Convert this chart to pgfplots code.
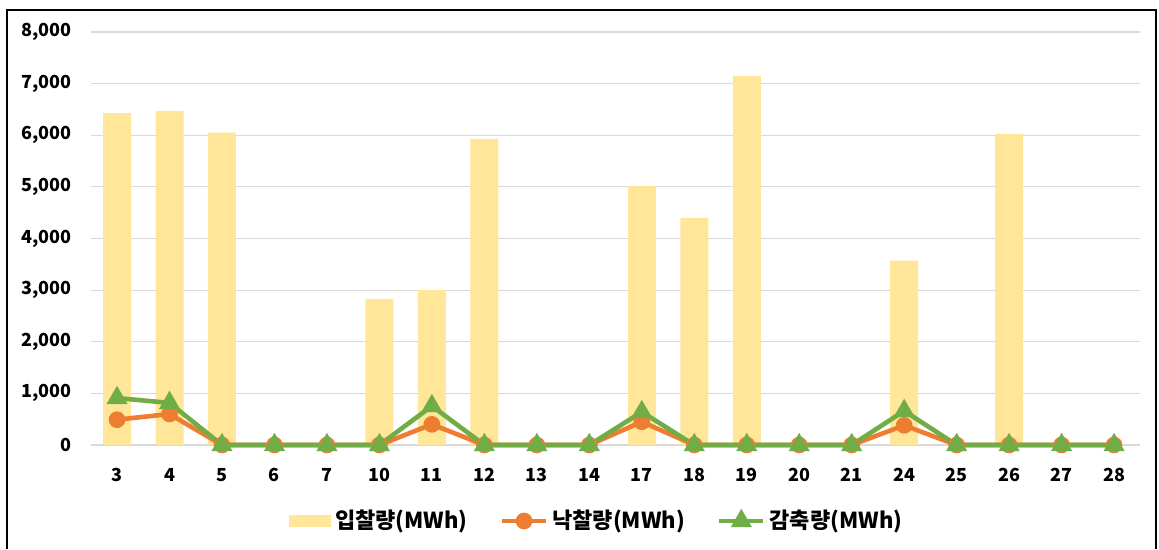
\documentclass[border=0pt]{standalone}
\usepackage{pgfplots}
\pgfplotsset{compat=1.18}
\usepackage{fontspec}
\setmainfont{Noto Sans CJK KR}
\definecolor{bidbar}{HTML}{FFE699}
\definecolor{winline}{HTML}{ED7D31}
\definecolor{cutline}{HTML}{70AD47}
\definecolor{gridc}{HTML}{D9D9D9}
\pgfplotsset{
  lineleg/.style={legend image code/.code={%
    \draw[##1,mark repeat=2,mark phase=2] plot coordinates {(0pt,0pt) (11pt,0pt) (22pt,0pt)};}},
  barleg/.style={legend image code/.code={%
    \fill[bidbar] (0pt,-3pt) rectangle (21pt,3pt);}},
}
\begin{document}
\begin{tikzpicture}
% page bounds and outer frame
\path (-45.4pt,-50.5pt) rectangle (534.1pt,222.5pt);
\draw[line width=0.8pt] (-41.9pt,-52pt) -- (-41.9pt,217.5pt) -- (532.6pt,217.5pt) -- (532.6pt,-52pt);
\begin{axis}[
  at={(0pt,0pt)}, anchor=south west,
  scale only axis, width=524.75pt, height=206.5pt,
  xmin=-0.5, xmax=19.5, ymin=0, ymax=8000,
  xtick={0,...,19},
  xticklabels={3,4,5,6,7,10,11,12,13,14,17,18,19,20,21,24,25,26,27,28},
  ytick={0,1000,...,8000},
  scaled y ticks=false,
  /pgf/number format/1000 sep={,},
  /pgf/number format/assume math mode=true,
  ticklabel style={font=\bfseries\fontsize{9}{10}\selectfont},
  xticklabel style={yshift=-8pt},
  yticklabel style={xshift=-6pt},
  axis line style={draw=none},
  major tick length=0pt,
  ymajorgrids, grid style={gridc, line width=0.6pt},
  clip=false,
  legend columns=3,
  legend style={draw=none, at={(0.483,-38pt)}, anchor=center,
    font=\bfseries\fontsize{11}{12}\selectfont,
    /tikz/every even column/.append style={column sep=14pt}},
]
\addplot[ybar, bar width=14pt, fill=bidbar, draw=none, barleg]
  coordinates {(0,6430) (1,6470) (2,6050) (5,2830) (6,3000) (7,5930)
    (10,5020) (11,4400) (12,7150) (15,3570) (17,6020)};
\addlegendentry{입찰량(MWh)}
\addplot[winline, line width=2.3pt, mark=*, mark size=3pt, lineleg]
  coordinates {(0,490) (1,600) (2,0) (3,0) (4,0) (5,0) (6,400) (7,0) (8,0) (9,0)
    (10,450) (11,0) (12,0) (13,0) (14,0) (15,380) (16,0) (17,0) (18,0) (19,0)};
\addlegendentry{낙찰량(MWh)}
\addplot[cutline, line width=2.3pt, mark=triangle*, mark size=3.8pt, lineleg]
  coordinates {(0,910) (1,815) (2,0) (3,0) (4,0) (5,0) (6,755) (7,0) (8,0) (9,0)
    (10,640) (11,0) (12,0) (13,0) (14,0) (15,660) (16,0) (17,0) (18,0) (19,0)};
\addlegendentry{감축량(MWh)}
\end{axis}
\end{tikzpicture}
\end{document}
